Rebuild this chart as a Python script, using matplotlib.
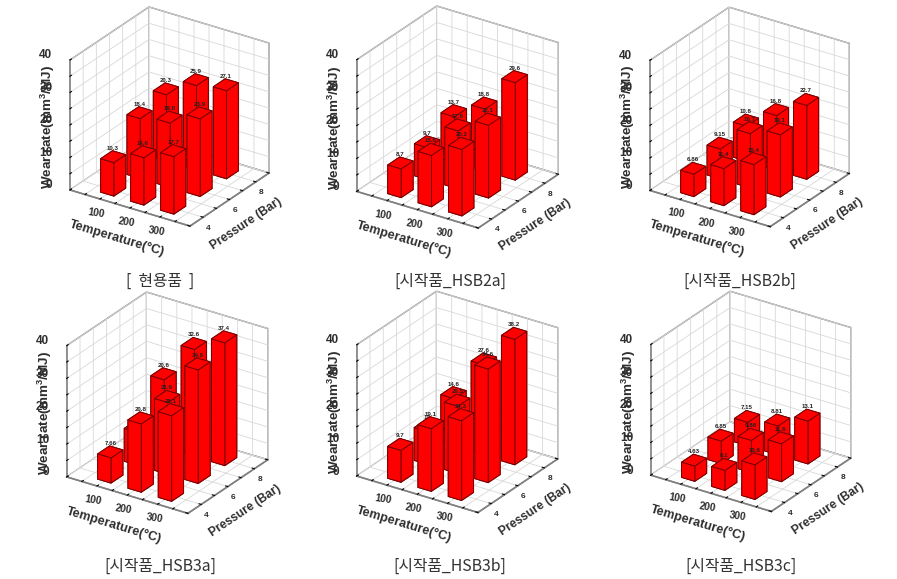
import matplotlib
matplotlib.use("Agg")
import matplotlib.pyplot as plt
from mpl_toolkits.mplot3d import proj3d

plt.rcParams['font.family'] = ['Liberation Sans', 'DejaVu Sans']
plt.rcParams['grid.color'] = '#d8d8d8'
plt.rcParams['grid.linewidth'] = 0.6
plt.rcParams['mathtext.default'] = 'regular'

temperatures = [100, 200, 300]
pressures = [4, 6, 8]
x_ticks = [0, 50, 100, 150, 200, 250, 300, 350, 400]
x_tick_labels = ['', '', '100', '', '200', '', '300', '', '']
y_ticks = [3, 4, 5, 6, 7, 8, 9]
y_tick_labels = ['', '4', '', '6', '', '8', '']
z_ticks = [0, 5, 10, 15, 20, 25, 30, 35, 40]
z_tick_labels = ['0', '', '10', '', '20', '', '30', '', '40']

# rows: pressure 4, 6, 8; columns: temperature 100, 200, 300
wear_current = [[10.3, 14.6, 17.7], [18.4, 19.8, 23.9], [20.3, 25.9, 27.1]]
wear_hsb2a = [[8.7, 15.6, 20.2], [9.7, 17.6, 22.1], [13.7, 18.8, 29.6]]
wear_hsb2b = [[6.86, 11.4, 15.4], [9.15, 16.7, 19.1], [10.8, 16.8, 22.7]]
wear_hsb3a = [[7.66, 20.8, 26.1], [10.0, 21.9, 34.6], [20.6, 32.6, 37.4]]
wear_hsb3b = [[9.7, 19.1, 24.3], [10.0, 20.5, 34.6], [14.6, 27.6, 38.2]]
wear_hsb3c = [[4.63, 6.1, 10.6], [6.85, 9.86, 11.6], [7.15, 8.81, 13.1]]

captions = ['[  현용품  ]', '[시작품_HSB2a]', '[시작품_HSB2b]',
            '[시작품_HSB3a]', '[시작품_HSB3b]', '[시작품_HSB3c]']
tables = [wear_current, wear_hsb2a, wear_hsb2b, wear_hsb3a, wear_hsb3b, wear_hsb3c]
# pixel targets: left-bottom corner, right-bottom corner of the floor
anchors = [((70, 190), (269, 173)), ((356.7, 191.7), (558.3, 174)), ((650, 190.7), (849.3, 173.3)),
           ((66.7, 476.7), (267.7, 460)), ((356.7, 475.7), (557.7, 459.3)), ((650.7, 475), (850.7, 458.3))]
caption_xy = [(160, 281), (450, 281), (740, 281), (160, 566), (450, 566), (741, 566)]

W, H = 897, 579
fig = plt.figure(figsize=(W / 100, H / 100), dpi=100, facecolor='white')
TEXT = '#2e2e2e'
FRAME = '#808080'


def to_px(ax, x, y, z):
    px, py, _ = proj3d.proj_transform(x, y, z, ax.get_proj())
    dx, dy = ax.transData.transform((px, py))
    return dx, H - dy


for table, cap, (a, b), cxy in zip(tables, captions, anchors, caption_xy):
    ax = fig.add_axes([0, 0, 0.3, 0.3 * W / H], projection='3d', computed_zorder=False,
                      proj_type='ortho')
    ax.patch.set_alpha(0)
    ax.view_init(elev=26.7, azim=-56.2)
    ax.set_box_aspect((144.4, 142, 145.5), zoom=1.0)
    ax.set_xlim(0, 400, view_margin=0)
    ax.set_ylim(3, 9, view_margin=0)
    ax.set_zlim(0, 40, view_margin=0)
    ax.set_xticks(x_ticks, x_tick_labels)
    ax.set_yticks(y_ticks, y_tick_labels)
    ax.set_zticks(z_ticks, z_tick_labels)
    ax.zaxis.set_ticks_position('lower')
    ax.zaxis.set_label_position('lower')
    for axis in (ax.xaxis, ax.yaxis, ax.zaxis):
        axis.set_pane_color((1, 1, 1, 1))
        axis.line.set_color(FRAME)
        axis.line.set_linewidth(1.2)
        axis._axinfo['tick']['inward_factor'] = 0.0
        axis._axinfo['tick']['outward_factor'] = 0.22
        axis._axinfo['tick']['color'] = FRAME
        axis.pane.set_edgecolor(FRAME)
        axis.pane.set_linewidth(1.0)
    ax.tick_params(axis='x', labelsize=7.4, pad=-4, labelcolor=TEXT, rotation=-8)
    ax.tick_params(axis='y', labelsize=6, pad=-4, labelcolor=TEXT)
    ax.tick_params(axis='z', labelsize=8.5, pad=0, labelcolor=TEXT)
    for lab in ax.get_xticklabels() + ax.get_yticklabels():
        lab.set_fontweight('bold')
    for lab in ax.get_zticklabels():
        lab.set_fontweight('bold')
        lab.set_ha('right')
        lab.set_va('bottom')
    ax.set_xlabel('Temperature(°C)', fontsize=9.2, fontweight='bold', color=TEXT, labelpad=-6)
    ax.set_ylabel('Pressure (Bar)', fontsize=8.7, fontweight='bold', color=TEXT, labelpad=-8)
    ax.set_zlabel('Wear rate(mm$^3$/MJ)', fontsize=9.7, fontweight='bold', color=TEXT, labelpad=-11)

    z = 5
    for j in (2, 1, 0):
        for i in (0, 1, 2):
            v = table[j][i]
            ax.bar3d(temperatures[i] - 22, pressures[j] - 0.45, 0, 44, 0.9, v, color='#ff0000',
                     edgecolor='#7a0000', linewidth=0.7, shade=False, zorder=z)
            px, py, _ = proj3d.proj_transform(temperatures[i], pressures[j], v + 2.6, ax.get_proj())
            ax.text2D(px, py, f'{v:.3g}', fontsize=4.4, fontweight='bold',
                      color='#222222', ha='center', va='center', zorder=z + 0.5)
            z += 1

    # fit the projected box onto the pixel targets
    for _ in range(3):
        fig.canvas.draw()
        p0 = to_px(ax, 0, 3, 0)
        p1 = to_px(ax, 400, 9, 0)
        scale = (b[0] - a[0]) / (p1[0] - p0[0])
        pos = ax.get_position(original=True)
        wpx = pos.width * W * scale
        cx = pos.x0 * W + pos.width * W / 2
        cy = pos.y0 * H + pos.height * H / 2
        mx, my = (p0[0] + p1[0]) / 2, H - (p0[1] + p1[1]) / 2
        tx, ty = (a[0] + b[0]) / 2, H - (a[1] + b[1]) / 2
        ncx = tx + (cx - mx) * scale
        ncy = ty + (cy - my) * scale
        ax.set_position([(ncx - wpx / 2) / W, (ncy - wpx / 2) / H, wpx / W, wpx / H])

    fig.text(cxy[0] / W, 1 - cxy[1] / H, cap, fontsize=11.4, color='#333333', ha='center', va='center',
             family=['Noto Sans CJK KR', 'DejaVu Sans'])

fig.savefig('out.png', dpi=100)
